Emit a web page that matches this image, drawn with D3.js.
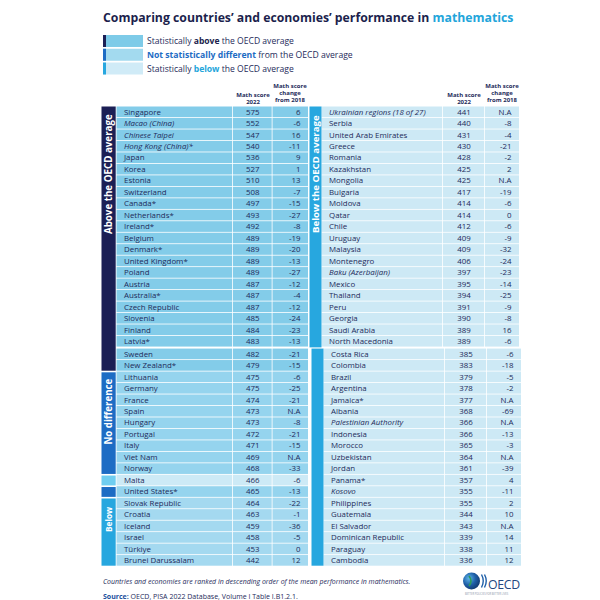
<!DOCTYPE html>
<html><head><meta charset="utf-8">
<script src="https://cdn.jsdelivr.net/npm/d3@7/dist/d3.min.js"></script>
<style>html,body{margin:0;padding:0;background:#fff;}svg{display:block;font-family:"Open Sans",sans-serif;}</style>
</head><body>
<script>
// ---------------- data ----------------
const leftCountries = ["Singapore","Macao (China)","Chinese Taipei","Hong Kong (China)*","Japan","Korea","Estonia","Switzerland","Canada*","Netherlands*","Ireland*","Belgium","Denmark*","United Kingdom*","Poland","Austria","Australia*","Czech Republic","Slovenia","Finland","Latvia*","Sweden","New Zealand*","Lithuania","Germany","France","Spain","Hungary","Portugal","Italy","Viet Nam","Norway","Malta","United States*","Slovak Republic","Croatia","Iceland","Israel","Türkiye","Brunei Darussalam"];
const leftScores = [575,552,547,540,536,527,510,508,497,493,492,489,489,489,489,487,487,487,485,484,483,482,479,475,475,474,473,473,472,471,469,468,466,465,464,463,459,458,453,442];
const leftChanges = [6,-6,16,-11,9,1,13,-7,-15,-27,-8,-19,-20,-13,-27,-12,-4,-12,-24,-23,-13,-21,-15,-6,-25,-21,null,-8,-21,-15,null,-33,-6,-13,-22,-1,-36,-5,0,12];
const leftGroups = ["above","above","above","above","above","above","above","above","above","above","above","above","above","above","above","above","above","above","above","above","above","above","above","same","same","same","same","same","same","same","same","same","light","same","below","below","below","below","below","below"];

const rightCountries = ["Ukrainian regions (18 of 27)","Serbia","United Arab Emirates","Greece","Romania","Kazakhstan","Mongolia","Bulgaria","Moldova","Qatar","Chile","Uruguay","Malaysia","Montenegro","Baku (Azerbaijan)","Mexico","Thailand","Peru","Georgia","Saudi Arabia","North Macedonia","Costa Rica","Colombia","Brazil","Argentina","Jamaica*","Albania","Palestinian Authority","Indonesia","Morocco","Uzbekistan","Jordan","Panama*","Kosovo","Philippines","Guatemala","El Salvador","Dominican Republic","Paraguay","Cambodia"];
const rightScores = [441,440,431,430,428,425,425,417,414,414,412,409,409,406,397,395,394,391,390,389,389,385,383,379,378,377,368,366,366,365,364,361,357,355,355,344,343,339,338,336];
const rightChanges = [null,-8,-4,-21,-2,2,null,-19,-6,0,-6,-9,-32,-24,-23,-14,-25,-9,-8,16,-6,-6,-18,-5,-2,null,-69,null,-13,-3,null,-39,4,-11,2,10,null,14,11,12];

const italicNames = ["Macao (China)","Chinese Taipei","Hong Kong (China)*","Ukrainian regions (18 of 27)","Baku (Azerbaijan)","Palestinian Authority","Kosovo"];
const legendItems = [
  {pre:"Statistically ", bold:"above", post:" the OECD average", key:"above"},
  {pre:"", bold:"Not statistically different", post:" from the OECD average", key:"same"},
  {pre:"Statistically ", bold:"below", post:" the OECD average", key:"below"}
];
const headerScore = ["Math score","2022"];
const headerChange = ["Math score","change","from 2018"];
const titleMain = "Comparing countries’ and economies’ performance in ";
const titleAccent = "mathematics";
const footNote = "Countries and economies are ranked in descending order of the mean performance in mathematics.";
const sourceLabel = "Source:";
const sourceText = " OECD, PISA 2022 Database, Volume I Table I.B1.2.1.";

// ---------------- styles ----------------
const NAVY = "#1b1f55", MID = "#1d6cc4", CYAN = "#27a7df";
const barColor = {above:NAVY, same:MID, light:"#6fcdf0", below:CYAN};
const rowFill = {above:"#83cce9", same:"#95d4ee", light:"#cdeaf6", below:"#a4d9f0", right:"#cde9f5"};
const legendFill = {above:"#7ecbe8", same:"#a3daef", below:"#d0ebf7"};
const TEXT = "#1e2b5a";

const W = 600, H = 600;
const svg = d3.select("body").append("svg").attr("width", W).attr("height", H);

function fit(sel, w){ const l = sel.node().getComputedTextLength(); const fs = parseFloat(sel.attr("font-size")); sel.attr("font-size", fs*w/l); }

// title
const title = svg.append("text").attr("x",103).attr("y",22).attr("font-size",12.5).attr("font-weight",700).attr("fill","#1c1f4d");
title.append("tspan").text(titleMain);
title.append("tspan").attr("fill","#22a5da").text(titleAccent);
fit(title, 411);

// legend
const legWidths = [147, 206, 147];
const legY = d3.scaleBand().domain(d3.range(legendItems.length)).range([35, 74.5]).paddingInner(0.13);
legendItems.forEach((d,i)=>{
  const y0 = legY(i), h = legY.bandwidth();
  svg.append("rect").attr("x",103).attr("y",y0).attr("width",40).attr("height",h).attr("fill",legendFill[d.key]);
  svg.append("rect").attr("x",103).attr("y",y0).attr("width",3).attr("height",h).attr("fill",barColor[d.key]);
  const t = svg.append("text").attr("x",147).attr("y",y0+h/2).attr("dy","0.35em").attr("font-size",7.8).attr("fill",TEXT);
  if(d.pre) t.append("tspan").text(d.pre);
  t.append("tspan").attr("font-weight",700).attr("fill", d.key==="above"?"#1c1f4d":d.key==="same"?"#1d6cc4":"#22a5da").text(d.bold);
  t.append("tspan").text(d.post);
  fit(t, legWidths[i]);
});

// body font size calibrated on "Singapore" width
const probe = svg.append("text").attr("font-size",7.4).text(leftCountries[0]);
fit(probe, 37);
const FS = Math.min(8.2, parseFloat(probe.attr("font-size")));
probe.remove();

// rows
const rowH = 11.47, gapAt = 21, gap = 1.2;
const yBand = d3.scaleBand().domain(d3.range(40)).range([106.5, 106.5 + 40*rowH]);
const rowTop = i => yBand(i) + (i>=gapAt ? gap : 0);

const fmt = v => v===null ? "N.A" : String(v);

function drawBlock(names, scores, changes, groups, cols, side){
  const g = svg.append("g");
  names.forEach((n,i)=>{
    const c = (side==="right" && i>=gapAt) ? cols.map(v=>v+2) : cols;
    const [bx0,nx0,sx0,cx0,cx1] = c;
    const y0 = rowTop(i), h = yBand.bandwidth();
    const fill = side==="right" ? rowFill.right : rowFill[groups[i]];
    g.append("rect").attr("x",nx0).attr("y",y0).attr("width",sx0-nx0-0.8).attr("height",h-0.8).attr("fill",fill);
    g.append("rect").attr("x",sx0).attr("y",y0).attr("width",cx0-sx0-0.8).attr("height",h-0.8).attr("fill",fill);
    g.append("rect").attr("x",cx0).attr("y",y0).attr("width",cx1-cx0).attr("height",h-0.8).attr("fill",fill);
    const ty = y0 + (h-0.8)/2;
    g.append("text").attr("x",nx0+7.5).attr("y",ty).attr("dy","0.35em").attr("font-size",FS).attr("fill",TEXT)
      .attr("font-style", italicNames.includes(n)?"italic":"normal").text(n);
    g.append("text").attr("x",(sx0+cx0)/2).attr("y",ty).attr("dy","0.35em").attr("text-anchor","middle").attr("font-size",FS).attr("fill",TEXT).text(scores[i]);
    g.append("text").attr("x",cx1-7.5).attr("y",ty).attr("dy","0.35em").attr("text-anchor","end").attr("font-size",FS).attr("fill",TEXT).text(fmt(changes[i]));
  });
}
const leftCols = [101.5,116.5,233,272.5,308];
const rightCols = [309.5,321.5,443,485,519];
drawBlock(leftCountries,leftScores,leftChanges,leftGroups,leftCols,"left");
drawBlock(rightCountries,rightScores,rightChanges,null,rightCols,"right");

// left bar segments
const segs = [];
leftGroups.forEach((g,i)=>{ if(!segs.length || segs[segs.length-1].g!==g) segs.push({g, from:i, to:i}); else segs[segs.length-1].to=i; });
segs.forEach((s,k)=>{
  const y0 = rowTop(s.from) + (k>0?0.8:0), y1 = rowTop(s.to) + yBand.bandwidth() - 0.8;
  svg.append("rect").attr("x",leftCols[0]).attr("y",y0).attr("width",leftCols[1]-leftCols[0]-0.8).attr("height",y1-y0).attr("fill",barColor[s.g]);
});
// right bar
svg.append("rect").attr("x",rightCols[0]).attr("y",rowTop(0)).attr("width",rightCols[1]-rightCols[0]).attr("height",rowTop(gapAt)-rowTop(0)-gap).attr("fill",CYAN);
svg.append("rect").attr("x",rightCols[0]+2).attr("y",rowTop(gapAt)).attr("width",rightCols[1]-rightCols[0]).attr("height",rowTop(39)+yBand.bandwidth()-rowTop(gapAt)-0.8).attr("fill",CYAN);

// vertical group labels
function vlabel(txt, cx, cy, len){
  const t = svg.append("text").attr("transform",`translate(${cx},${cy}) rotate(-90)`).attr("text-anchor","middle").attr("dy","0.35em")
    .attr("font-size",9.5).attr("font-weight",700).attr("fill","#fff").text(txt);
  fit(t, len);
}
const rowMid = k => rowTop(Math.floor(k)) + (k-Math.floor(k))*rowH + rowH/2;
vlabel("Above the OECD average", (leftCols[0]+leftCols[1])/2, rowMid(5.4), 120);
vlabel("No difference", (leftCols[0]+leftCols[1])/2, rowMid(26.0), 66);
vlabel("Below", (leftCols[0]+leftCols[1])/2, rowMid(35.4), 25);
vlabel("Below the OECD average", (rightCols[0]+rightCols[1])/2, rowMid(5.4), 118);

// headers
function header(lines, cx, lastBase){
  const t = svg.append("text").attr("text-anchor","middle").attr("font-size",6).attr("font-weight",700).attr("fill",TEXT);
  lines.forEach((l,i)=> t.append("tspan").attr("x",cx).attr("y", lastBase - (lines.length-1-i)*6.6).text(l));
}
header(headerScore, 253, 104);
header(headerChange, 290, 101.5);
header(headerScore, 464, 104);
header(headerChange, 502, 101.5);

// footer
const fn = svg.append("text").attr("x",103).attr("y",584).attr("font-size",6.4).attr("font-style","italic").attr("fill",TEXT).text(footNote);
fit(fn, 307);
const src = svg.append("text").attr("x",103).attr("y",598.5).attr("font-size",6.4).attr("fill",TEXT);
src.append("tspan").attr("font-weight",700).attr("fill","#1c4f9c").text(sourceLabel);
src.append("tspan").text(sourceText);
fit(src, 195);

// OECD logo
const defs = svg.append("defs");
const rg = defs.append("radialGradient").attr("id","globe").attr("cx","35%").attr("cy","35%").attr("r","70%");
rg.append("stop").attr("offset","0%").attr("stop-color","#5fb7e8");
rg.append("stop").attr("offset","55%").attr("stop-color","#1f5fa8");
rg.append("stop").attr("offset","100%").attr("stop-color","#123a70");
svg.append("circle").attr("cx",471.5).attr("cy",581).attr("r",8.5).attr("fill","url(#globe)");
svg.append("path").attr("d","M469,576 q4,5 0,10").attr("fill","none").attr("stroke","#2e9a5a").attr("stroke-width",1.6);
[0,1].forEach(k=> svg.append("path").attr("d",`M${481.5+k*3},574.5 q3.5,6.5 0,13`).attr("fill","none").attr("stroke","#1f5fa8").attr("stroke-width",1.4));
const oecd = svg.append("text").attr("x",488).attr("y",589).attr("font-size",13).attr("fill","#24477f").attr("letter-spacing",-0.3).text("OECD");
fit(oecd, 32);
svg.append("text").attr("x",465).attr("y",595).attr("font-size",2.6).attr("fill","#8a94a8").text("BETTER POLICIES FOR BETTER LIVES");
</script>
</body></html>
